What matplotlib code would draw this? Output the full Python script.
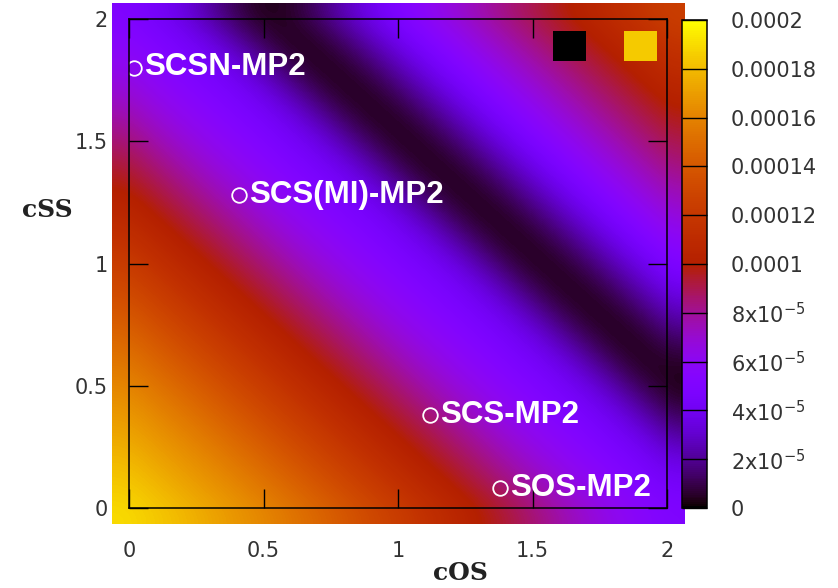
import numpy as np
import matplotlib
matplotlib.use("Agg")
import matplotlib.pyplot as plt
from matplotlib.patches import Rectangle
from matplotlib.colors import Normalize

# grid of scaling factors (opposite-spin / same-spin)
cos_vals = [0.0, 0.1, 0.2, 0.3, 0.4, 0.5, 0.6, 0.7, 0.8, 0.9, 1.0,
            1.1, 1.2, 1.3, 1.4, 1.5, 1.6, 1.7, 1.8, 1.9, 2.0]
css_vals = [0.0, 0.1, 0.2, 0.3, 0.4, 0.5, 0.6, 0.7, 0.8, 0.9, 1.0,
            1.1, 1.2, 1.3, 1.4, 1.5, 1.6, 1.7, 1.8, 1.9, 2.0]

# error surface, units of 1e-5, rows = cSS (bottom to top), columns = cOS
err_rows = [
    [19.0, 18.5, 18.0, 17.4, 16.8, 16.2, 15.5, 14.8, 14.0, 13.2, 12.4, 11.6, 10.8, 10.0, 9.3, 8.5, 7.7, 6.9, 6.2, 5.6, 5.0],
    [18.5, 18.0, 17.4, 16.8, 16.2, 15.5, 14.8, 14.0, 13.2, 12.4, 11.6, 10.8, 10.0, 9.3, 8.5, 7.7, 6.9, 6.2, 5.6, 5.0, 4.4],
    [18.0, 17.4, 16.8, 16.2, 15.5, 14.8, 14.0, 13.2, 12.4, 11.6, 10.8, 10.0, 9.3, 8.5, 7.7, 6.9, 6.2, 5.6, 5.0, 4.4, 3.6],
    [17.4, 16.8, 16.2, 15.5, 14.8, 14.0, 13.2, 12.4, 11.6, 10.8, 10.0, 9.3, 8.5, 7.7, 6.9, 6.2, 5.6, 5.0, 4.4, 3.6, 2.3],
    [16.8, 16.2, 15.5, 14.8, 14.0, 13.2, 12.4, 11.6, 10.8, 10.0, 9.3, 8.5, 7.7, 6.9, 6.2, 5.6, 5.0, 4.4, 3.6, 2.3, 1.1],
    [16.2, 15.5, 14.8, 14.0, 13.2, 12.4, 11.6, 10.8, 10.0, 9.3, 8.5, 7.7, 6.9, 6.2, 5.6, 5.0, 4.4, 3.6, 2.3, 1.1, 0.3],
    [15.5, 14.8, 14.0, 13.2, 12.4, 11.6, 10.8, 10.0, 9.3, 8.5, 7.7, 6.9, 6.2, 5.6, 5.0, 4.4, 3.6, 2.3, 1.1, 0.3, 0.5],
    [14.8, 14.0, 13.2, 12.4, 11.6, 10.8, 10.0, 9.3, 8.5, 7.7, 6.9, 6.2, 5.6, 5.0, 4.4, 3.6, 2.3, 1.1, 0.3, 0.5, 1.4],
    [14.0, 13.2, 12.4, 11.6, 10.8, 10.0, 9.3, 8.5, 7.7, 6.9, 6.2, 5.6, 5.0, 4.4, 3.6, 2.3, 1.1, 0.3, 0.5, 1.4, 2.6],
    [13.2, 12.4, 11.6, 10.8, 10.0, 9.3, 8.5, 7.7, 6.9, 6.2, 5.6, 5.0, 4.4, 3.6, 2.3, 1.1, 0.3, 0.5, 1.4, 2.6, 3.8],
    [12.4, 11.6, 10.8, 10.0, 9.3, 8.5, 7.7, 6.9, 6.2, 5.6, 5.0, 4.4, 3.6, 2.3, 1.1, 0.3, 0.5, 1.4, 2.6, 3.8, 5.0],
    [11.6, 10.8, 10.0, 9.3, 8.5, 7.7, 6.9, 6.2, 5.6, 5.0, 4.4, 3.6, 2.3, 1.1, 0.3, 0.5, 1.4, 2.6, 3.8, 5.0, 5.9],
    [10.8, 10.0, 9.3, 8.5, 7.7, 6.9, 6.2, 5.6, 5.0, 4.4, 3.6, 2.3, 1.1, 0.3, 0.5, 1.4, 2.6, 3.8, 5.0, 5.9, 6.8],
    [10.0, 9.3, 8.5, 7.7, 6.9, 6.2, 5.6, 5.0, 4.4, 3.6, 2.3, 1.1, 0.3, 0.5, 1.4, 2.6, 3.8, 5.0, 5.9, 6.8, 7.6],
    [9.3, 8.5, 7.7, 6.9, 6.2, 5.6, 5.0, 4.4, 3.6, 2.3, 1.1, 0.3, 0.5, 1.4, 2.6, 3.8, 5.0, 5.9, 6.8, 7.6, 8.4],
    [8.5, 7.7, 6.9, 6.2, 5.6, 5.0, 4.4, 3.6, 2.3, 1.1, 0.3, 0.5, 1.4, 2.6, 3.8, 5.0, 5.9, 6.8, 7.6, 8.4, 9.1],
    [7.7, 6.9, 6.2, 5.6, 5.0, 4.4, 3.6, 2.3, 1.1, 0.3, 0.5, 1.4, 2.6, 3.8, 5.0, 5.9, 6.8, 7.6, 8.4, 9.1, 9.8],
    [6.9, 6.2, 5.6, 5.0, 4.4, 3.6, 2.3, 1.1, 0.3, 0.5, 1.4, 2.6, 3.8, 5.0, 5.9, 6.8, 7.6, 8.4, 9.1, 9.8, 10.5],
    [6.2, 5.6, 5.0, 4.4, 3.6, 2.3, 1.1, 0.3, 0.5, 1.4, 2.6, 3.8, 5.0, 5.9, 6.8, 7.6, 8.4, 9.1, 9.8, 10.5, 11.2],
    [5.6, 5.0, 4.4, 3.6, 2.3, 1.1, 0.3, 0.5, 1.4, 2.6, 3.8, 5.0, 5.9, 6.8, 7.6, 8.4, 9.1, 9.8, 10.5, 11.2, 11.9],
    [5.0, 4.4, 3.6, 2.3, 1.1, 0.3, 0.5, 1.4, 2.6, 3.8, 5.0, 5.9, 6.8, 7.6, 8.4, 9.1, 9.8, 10.5, 11.2, 11.9, 12.5],
]

# named methods
method_names = ["SCSN-MP2", "SCS(MI)-MP2", "SCS-MP2", "SOS-MP2"]
method_cos = [0.02, 0.41, 1.12, 1.38]
method_css = [1.80, 1.28, 0.38, 0.08]

# min / max swatches in the corner
swatch_cos = [1.638, 1.900]
swatch_css = [1.890, 1.890]
swatch_vals = [0.0, 1.85e-4]

cbar_ticks = [0, 2e-5, 4e-5, 6e-5, 8e-5, 1e-4, 1.2e-4, 1.4e-4, 1.6e-4, 1.8e-4, 2e-4]
axis_ticks = [0, 0.5, 1, 1.5, 2]

Z = np.array(err_rows) * 1e-5
cmap = plt.get_cmap("gnuplot")
norm = Normalize(vmin=0, vmax=2e-4)

fig = plt.figure(figsize=(8.38, 5.88), dpi=100)
ax = fig.add_axes([129 / 838, 80 / 588, 538 / 838, 489 / 588])
cax = fig.add_axes([682 / 838, 80 / 588, 25 / 838, 488 / 588])

# surface spills a little past the frame
ov = 0.064
im = ax.imshow(Z, origin="lower", cmap=cmap, norm=norm, interpolation="bicubic",
               extent=(cos_vals[0] - ov, cos_vals[-1] + ov,
                       css_vals[0] - ov, css_vals[-1] + ov),
               aspect="auto", zorder=0)
clip = Rectangle((-ov, -ov), 2 + 2 * ov, 2 + 2 * ov, transform=ax.transData)
im.set_clip_path(clip)

ax.set_xlim(0, 2)
ax.set_ylim(0, 2)

for cx, cy, v in zip(swatch_cos, swatch_css, swatch_vals):
    ax.add_patch(Rectangle((cx - 0.0615, cy - 0.0615), 0.123, 0.123,
                           facecolor=cmap(norm(v)), edgecolor="none", zorder=2))

ax.plot(method_cos, method_css, "o", ms=10.5, mfc="none", mec="white", mew=1.3, zorder=3)
for name, cx, cy in zip(method_names, method_cos, method_css):
    ax.annotate(name, (cx, cy), xytext=(7, -5.4), textcoords="offset points",
                ha="left", va="baseline", color="white", fontsize=22.5,
                fontweight="bold", family="Liberation Sans", zorder=4)

ax.set_xticks(axis_ticks)
ax.set_yticks(axis_ticks)
ax.set_xticklabels(["0", "0.5", "1", "1.5", "2"])
ax.set_yticklabels(["0", "0.5", "1", "1.5", "2"])
ax.tick_params(direction="in", length=14, width=1, top=True, right=True,
               labelsize=15, labelcolor="#333333", color="black")
ax.tick_params(axis="x", pad=24)
ax.tick_params(axis="y", pad=15)
for s in ax.spines.values():
    s.set_linewidth(1.1)
    s.set_color("black")
    s.set_zorder(5)

cb = fig.colorbar(im, cax=cax)
cb.set_ticks(cbar_ticks)


def cb_label(v):
    if v == 0:
        return "0"
    if v < 1e-4 - 1e-12:
        return "%dx10$^{-5}$" % round(v * 1e5)
    return ("%.5f" % v).rstrip("0")


cb.set_ticklabels([cb_label(v) for v in cbar_ticks])
cb.outline.set_linewidth(1.1)
cb.outline.set_edgecolor("black")
cax.tick_params(direction="in", length=18, width=1, right=True, left=False,
                labelsize=15, labelcolor="#333333", pad=17)

fig.text(47 / 838, 1 - 210 / 588, "cSS", ha="center", va="center",
         family="DejaVu Serif", fontweight="bold", fontsize=18, color="#222222")
fig.text(460 / 838, 1 - 573 / 588, "cOS", ha="center", va="center",
         family="DejaVu Serif", fontweight="bold", fontsize=18, color="#222222")

fig.savefig("out.png", dpi=100, facecolor="white")
